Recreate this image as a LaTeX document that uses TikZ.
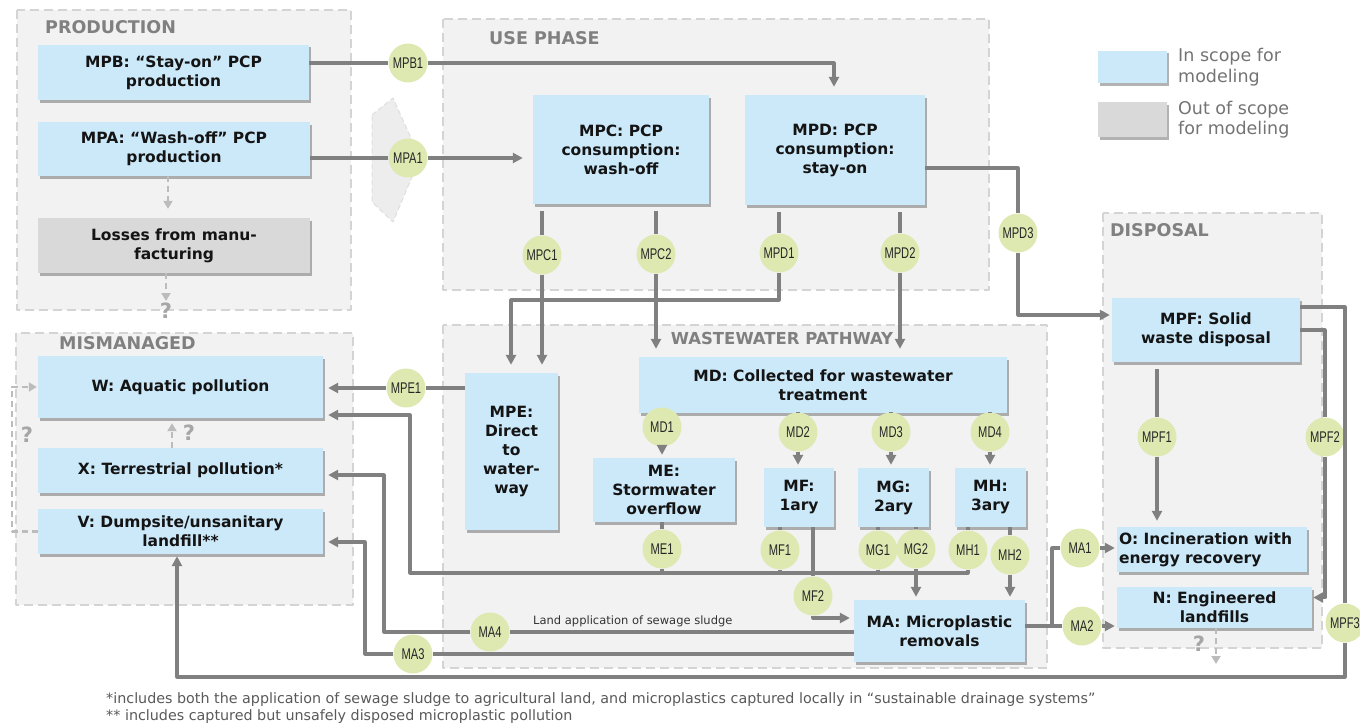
\documentclass[tikz,border=0pt]{standalone}
\usepackage{fontspec}
\setmainfont{DejaVu Sans}
\newfontfamily\narrowfont[FakeStretch=0.72]{Liberation Sans}
\usetikzlibrary{arrows.meta,shadows}
\definecolor{scopeblue}{RGB}{204,233,250}
\definecolor{outgray}{RGB}{217,217,217}
\definecolor{grpfill}{RGB}{242,242,242}
\definecolor{grpline}{RGB}{212,212,212}
\definecolor{flowgreen}{RGB}{222,233,178}
\definecolor{linegray}{RGB}{128,128,128}
\definecolor{qgray}{RGB}{188,188,188}
\tikzset{
  grp/.style={fill=grpfill, draw=grpline, line width=2pt, dash pattern=on 9pt off 5pt},
  chev/.style={fill=black!7, draw=black!13, line width=1pt, dash pattern=on 5pt off 3pt},
  grptitle/.style={anchor=west, text=linegray, inner sep=0pt, font=\fontsize{17.5}{19}\selectfont\bfseries},
  box/.style={fill=scopeblue, text=black!92, align=center, inner sep=1pt,
    font=\fontsize{15.5}{19}\selectfont\bfseries,
    drop shadow={shadow xshift=2pt, shadow yshift=-2.5pt, fill=black!55, opacity=.55}},
  outbox/.style={box, fill=outgray},
  flow/.style={circle, fill=flowgreen, minimum size=39pt, inner sep=0pt, text=black!85,
    font=\narrowfont\fontsize{15.5}{16}\selectfont},
  link/.style={draw=linegray, line width=3.2pt},
  arr/.style={link, ->, shorten >=#1},
  arr/.default=8pt,
  qlink/.style={draw=qgray, line width=2.4pt, dash pattern=on 6pt off 4pt, -{Triangle[length=8pt,width=9pt]}, shorten >=#1},
  qlink/.default=2pt,
  qmark/.style={text=black!35, inner sep=0pt, font=\fontsize{21}{21}\selectfont\bfseries},
  legtxt/.style={anchor=west, align=left, text=black!55, inner sep=0pt, font=\fontsize{17.5}{20.5}\selectfont},
  note/.style={anchor=west, inner sep=0pt, text=black!65, font=\fontsize{14.3}{16}\selectfont},
}
\begin{document}
\begin{tikzpicture}[x=1pt, y=-1pt, line join=round, >={Triangle[length=10pt,width=10pt]}]
\useasboundingbox (0,0) rectangle (1360,725);
\foreach \xa/\ya/\xb/\yb in {17/10/351/310, 443/19/989/290, 1103/213/1322/648, 16/333/353/605, 443/325/1047/668}
  \draw[grp] (\xa,\ya) rectangle (\xb,\yb);
\draw[chev] (372,115) -- (393,98) -- (420,158) -- (393,222) -- (372,202) -- cycle;
\node[grptitle] (tprod) at (45,27) {PRODUCTION};
\node[grptitle] (tuse) at (489,38) {USE PHASE};
\node[grptitle] (tdisp) at (1110,230) {DISPOSAL};
\node[grptitle] (tmis) at (59,343) {MISMANAGED};
\node[grptitle, anchor=center, font=\fontsize{16.5}{18}\selectfont\bfseries] (tww) at (782,338) {WASTEWATER PATHWAY};

\node[box, minimum width=271pt, minimum height=55pt] (mpb) at (173.5,72.5) {MPB: “Stay-on” PCP\\production};
\node[box, minimum width=272pt, minimum height=54pt] (mpa) at (174,149) {MPA: “Wash-off” PCP\\production};
\node[outbox, minimum width=272pt, minimum height=55pt] (loss) at (174,245.5) {Losses from manu-\\facturing};
\node[box, minimum width=176pt, minimum height=109pt] (mpc) at (621,149.5) {MPC: PCP\\consumption:\\wash-off};
\node[box, minimum width=180pt, minimum height=110pt] (mpd) at (835,150) {MPD: PCP\\consumption:\\stay-on};
\node[box, minimum width=188pt, minimum height=64pt] (mpf) at (1206,330) {MPF: Solid\\waste disposal};
\node[box, minimum width=285pt, minimum height=62pt] (w) at (180.5,387) {W: Aquatic pollution};
\node[box, minimum width=285pt, minimum height=45pt] (x) at (180.5,470.5) {X: Terrestrial pollution*};
\node[box, minimum width=285pt, minimum height=45pt] (v) at (180.5,531.5) {V: Dumpsite/unsanitary\\landfill**};
\node[box, minimum width=93pt, minimum height=157pt] (mpe) at (511.5,451.5) {MPE:\\Direct\\to\\water-\\way};
\node[box, minimum width=368pt, minimum height=56pt] (md) at (823,385) {MD: Collected for wastewater\\treatment};
\node[box, minimum width=142pt, minimum height=64pt] (me) at (664,490) {ME:\\Stormwater\\overflow};
\node[box, minimum width=70pt, minimum height=59pt] (mf) at (799,497.5) {MF:\\1ary};
\node[box, minimum width=71pt, minimum height=59pt] (mg) at (893.5,497.5) {MG:\\2ary};
\node[box, minimum width=71pt, minimum height=59pt] (mh) at (990.5,497.5) {MH:\\3ary};
\node[box, minimum width=171pt, minimum height=62pt] (ma) at (939.5,631) {MA: Microplastic\\removals};
\node[box, minimum width=190pt, minimum height=45pt, align=left, text width=186pt] (o) at (1212,549.5) {O: Incineration with\\energy recovery};
\node[box, minimum width=195pt, minimum height=41pt] (n) at (1214.5,607.5) {N: Engineered\\landfills};

\node[box, minimum width=69pt, minimum height=32pt] (inscope) at (1132.5,67) {};
\node[outbox, minimum width=69pt, minimum height=35pt] (outscope) at (1132.5,119.5) {};
\node[legtxt] (inlab) at (1178,67) {In scope for\\modeling};
\node[legtxt] (outlab) at (1178,119.5) {Out of scope\\for modeling};

\foreach \n/\l/\x/\y in {mpb1/MPB1/408/63, mpa1/MPA1/408/158, mpc1/MPC1/542/255, mpc2/MPC2/656/254,
  mpd1/MPD1/779/253, mpd2/MPD2/900/253, mpd3/MPD3/1018/233, mpe1/MPE1/406/388,
  md1/MD1/662/427, md2/MD2/798/432, md3/MD3/891/432, md4/MD4/990/432,
  me1/ME1/662/549, mf1/MF1/780/550, mf2/MF2/813/596, mg1/MG1/878/550, mg2/MG2/916/549,
  mh1/MH1/968/550, mh2/MH2/1010/555, ma1/MA1/1080/548, ma2/MA2/1082/626,
  ma3/MA3/413/654, ma4/MA4/490/632, mpf1/MPF1/1157/437, mpf2/MPF2/1325/437, mpf3/MPF3/1345/623}
  \node[flow] (\n) at (\x,\y) {\l};

\coordinate (j1) at (511,300);
\coordinate (d3) at (1018,168);
\coordinate (k1) at (410,573);
\coordinate (a0) at (1052,626);
\coordinate (b4) at (384,632);
\coordinate (b3) at (365,654);
\coordinate (c2) at (177,677);

\draw[link] (mpb.east |- mpb1) -- (mpb1);
\draw[arr] (mpb1) -| ([xshift=-1pt]mpd.north);
\draw[link] (mpa.east |- mpa1) -- (mpa1);
\draw[arr=10pt] (mpa1) -- (mpc.west |- mpa1);
\draw[link, shorten <=7pt] (mpc1 |- mpc.south) -- (mpc1);
\draw[arr] (mpc1) -- (mpc1 |- mpe.north);
\draw[link, shorten <=7pt] (mpc2 |- mpc.south) -- (mpc2);
\draw[arr] (mpc2) -- (mpc2 |- md.north);
\draw[link, shorten <=7pt] (mpd1 |- mpd.south) -- (mpd1);
\draw[arr] (mpd1) |- (j1) -- (j1 |- mpe.north);
\draw[link, shorten <=7pt] (mpd2 |- mpd.south) -- (mpd2);
\draw[arr] (mpd2) -- (mpd2 |- md.north);
\draw[link] (mpd.east |- d3) -- (d3) -- (mpd3);
\draw[arr=2pt] (mpd3) |- ([yshift=15pt]mpf.west);

\draw[link] ([yshift=23pt]mpf.east) -| (mpf3);
\draw[arr=2pt] (mpf3) |- (c2) -- (c2 |- v.south);
\draw[link] (mpf.east) -| (mpf2);
\draw[arr=1pt] (mpf2) |- ([yshift=10pt]n.east);
\draw[link, shorten <=7pt] (mpf1 |- mpf.south) -- (mpf1);
\draw[arr=6pt] (mpf1) -- (mpf1 |- o.north);

\draw[link] (mpe.west |- mpe1) -- (mpe1);
\draw[arr=5pt] (mpe1) -- (w.east |- mpe1);

\draw[arr=3pt] (md1) -- (md1 |- me.north);
\foreach \c/\b in {md2/mf, md3/mg, md4/mh}{
  \draw[link] (\c |- md.south) -- (\c);
  \draw[arr=3pt] (\c) -- (\c |- \b.north);
}
\draw[link] (me1 |- me.south) -- (me1) -- (me1 |- k1);
\draw[link] (mf1 |- mf.south) -- (mf1) -- (mf1 |- k1);
\draw[link] (mg1 |- mg.south) -- (mg1) -- (mg1 |- k1);
\draw[link] (mh1 |- mh.south) -- (mh1);
\draw[arr=5pt] (mh1) |- (k1) |- ([yshift=-28pt]w.east);
\draw[link] (mf2 |- mf.south) -- (mf2);
\draw[arr=4pt] (mf2) |- ([yshift=13pt]ma.west);
\draw[link] (mg2 |- mg.south) -- (mg2);
\draw[arr=3pt] (mg2) -- (mg2 |- ma.north);
\draw[link] (mh2 |- mh.south) -- (mh2);
\draw[arr=3pt] (mh2) -- (mh2 |- ma.north);

\draw[link] (ma.east |- a0) -- (a0) |- (ma1);
\draw[arr=2pt] (ma1) -- (o.west |- ma1);
\draw[link] (a0) -- (ma2);
\draw[arr=2pt] (ma2) -- (n.west |- ma2);
\draw[link] (ma.west |- ma4) -- (ma4);
\draw[arr=5pt] (ma4) -- (b4) |- ([yshift=-4.5pt]x.east);
\draw[link] (ma.west |- ma3) -- (ma3);
\draw[arr=5pt] (ma3) -- (b3) |- ([yshift=-10.5pt]v.east);
\node[anchor=west, inner sep=0pt, text=black!80, font=\fontsize{11.5}{13}\selectfont] (sludge) at (533,621) {Land application of sewage sludge};

\draw[qlink=9pt] ([xshift=-6pt]mpa.south) -- ([xshift=-6pt]loss.north);
\node[qmark] (q1) at (166,311) {?};
\draw[qlink] ([xshift=-8pt]loss.south) -- (q1.north);
\coordinate (q2c) at (12,460);
\draw[qlink=1pt] (v.west) -| (q2c) |- (w.west);
\node[qmark] (q2) at (27,435) {?};
\draw[qlink=5pt] ([xshift=-8.5pt]x.north) -- ([xshift=-8.5pt]w.south);
\node[qmark] (q3) at (189,433) {?};
\coordinate (q4c) at (1216,664);
\draw[qlink=0pt] (n.south -| q4c) -- (q4c);
\node[qmark] (q4) at (1199,644) {?};

\node[note] (fn1) at (106,700) {*includes both the application of sewage sludge to agricultural land, and microplastics captured locally in “sustainable drainage systems”};
\node[note] (fn2) at (106,717) {** includes captured but unsafely disposed microplastic pollution};
\end{tikzpicture}
\end{document}
